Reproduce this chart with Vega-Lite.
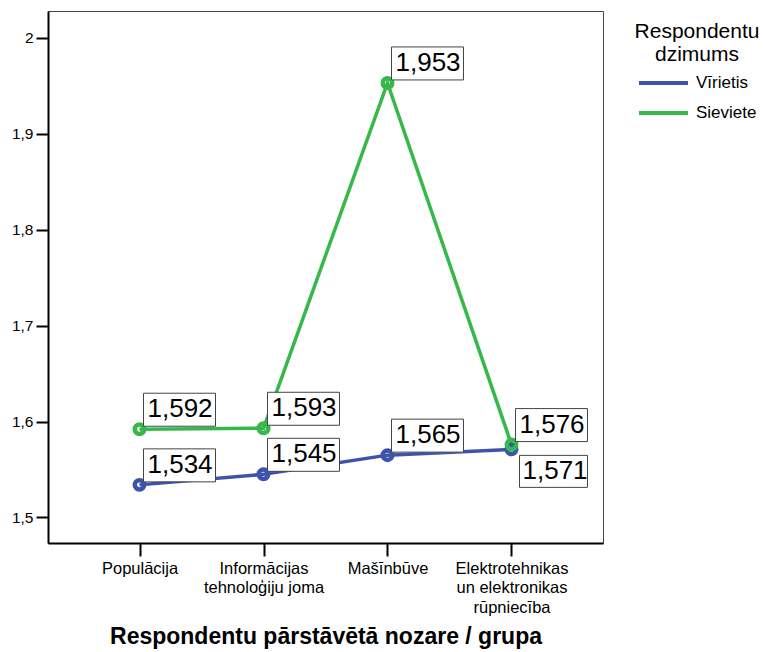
{
  "$schema": "https://vega.github.io/schema/vega-lite/v6.json",
  "autosize": "none",
  "width": 555,
  "height": 532,
  "padding": {"left": 48, "top": 11, "right": 162, "bottom": 109},
  "background": "white",
  "config": {
    "font": "Liberation Sans",
    "view": {"stroke": "#444", "strokeWidth": 1}
  },
  "data": {
    "values": [
      {"cat": "Populācija", "gender": "Vīrietis", "value": 1.534},
      {"cat": "Informācijas tehnoloģiju joma", "gender": "Vīrietis", "value": 1.545},
      {"cat": "Mašīnbūve", "gender": "Vīrietis", "value": 1.565},
      {"cat": "Elektrotehnikas un elektronikas rūpniecība", "gender": "Vīrietis", "value": 1.571},
      {"cat": "Populācija", "gender": "Sieviete", "value": 1.592},
      {"cat": "Informācijas tehnoloģiju joma", "gender": "Sieviete", "value": 1.593},
      {"cat": "Mašīnbūve", "gender": "Sieviete", "value": 1.953},
      {"cat": "Elektrotehnikas un elektronikas rūpniecība", "gender": "Sieviete", "value": 1.576}
    ]
  },
  "transform": [
    {"calculate": "replace(format(datum.value, '.3f'), '.', ',')", "as": "label"},
    {"calculate": "datum.gender == 'Vīrietis' ? 0 : 1", "as": "ord"}
  ],
  "encoding": {
    "x": {
      "field": "cat",
      "type": "nominal",
      "sort": null,
      "scale": {"type": "point", "padding": 0.738},
      "axis": {
        "title": "Respondentu pārstāvētā nozare / grupa",
        "titleFont": "Liberation Sans",
        "titleFontSize": 23,
        "titleFontWeight": "bold",
        "titleColor": "black",
        "titlePadding": 10,
        "labelAngle": 0,
        "labelFontSize": 16.5,
        "labelColor": "black",
        "labelLineHeight": 19.5,
        "labelPadding": 4,
        "labelBaseline": "top",
        "tickSize": 13,
        "tickWidth": 2,
        "tickColor": "black",
        "domainColor": "black",
        "domainWidth": 2,
        "labelExpr": "datum.label == 'Informācijas tehnoloģiju joma' ? ['Informācijas', 'tehnoloģiju joma'] : datum.label == 'Elektrotehnikas un elektronikas rūpniecība' ? ['Elektrotehnikas', 'un elektronikas', 'rūpniecība'] : datum.label"
      }
    },
    "y": {
      "field": "value",
      "type": "quantitative",
      "scale": {"domain": [1.4734, 2.028], "nice": false, "zero": false},
      "axis": {
        "title": null,
        "values": [1.5, 1.6, 1.7, 1.8, 1.9, 2.0],
        "grid": false,
        "labelFontSize": 15.5,
        "labelColor": "black",
        "labelPadding": 3,
        "tickSize": 12,
        "tickWidth": 2,
        "tickColor": "black",
        "domainColor": "black",
        "domainWidth": 2,
        "labelExpr": "replace(format(datum.value, '.1~f'), '.', ',')"
      }
    }
  },
  "layer": [
    {
      "mark": {"type": "line", "strokeWidth": 3.5},
      "encoding": {
        "color": {
          "field": "gender",
          "type": "nominal",
          "sort": ["Vīrietis", "Sieviete"],
          "scale": {"domain": ["Vīrietis", "Sieviete"], "range": ["#3e53ac", "#36b84a"]},
          "legend": {
            "title": ["Respondentu", "dzimums"],
            "orient": "none",
            "legendX": 587,
            "legendY": 10,
            "titleFontSize": 21,
            "titleFontWeight": "normal",
            "titleColor": "black",
            "titleAlign": "center",
            "titleAnchor": "middle",
            "titleLineHeight": 23,
            "titlePadding": 8,
            "labelFontSize": 17,
            "labelColor": "black",
            "labelOffset": 6,
            "symbolType": "stroke",
            "symbolSize": 2401,
            "symbolStrokeWidth": 4,
            "clipHeight": 20,
            "rowPadding": 10
          }
        },
        "order": {"field": "ord"},
        "detail": {"field": "gender"}
      }
    },
    {
      "mark": {"type": "point", "shape": "circle", "filled": false, "size": 90, "strokeWidth": 4.5, "opacity": 1},
      "encoding": {
        "color": {"field": "gender", "type": "nominal", "legend": null},
        "order": {"field": "ord"}
      }
    },
    {
      "transform": [{"filter": "!(datum.gender == 'Vīrietis' && datum.cat == 'Elektrotehnikas un elektronikas rūpniecība')"}],
      "layer": [
        {
          "mark": {"type": "rect", "fill": "white", "stroke": "#444", "strokeWidth": 1, "xOffset": 4, "x2Offset": 76, "yOffset": -36, "y2Offset": -3},
          "encoding": {"x2": {"field": "cat"}, "y2": {"field": "value"}}
        },
        {
          "mark": {"type": "text", "align": "left", "baseline": "alphabetic", "dx": 8, "dy": -12, "fontSize": 26, "color": "black"},
          "encoding": {"text": {"field": "label"}}
        }
      ]
    },
    {
      "transform": [{"filter": "datum.gender == 'Vīrietis' && datum.cat == 'Elektrotehnikas un elektronikas rūpniecība'"}],
      "layer": [
        {
          "mark": {"type": "rect", "fill": "white", "stroke": "#444", "strokeWidth": 1, "xOffset": 8, "x2Offset": 76, "yOffset": 6, "y2Offset": 38},
          "encoding": {"x2": {"field": "cat"}, "y2": {"field": "value"}}
        },
        {
          "mark": {"type": "text", "align": "left", "baseline": "alphabetic", "dx": 11, "dy": 30, "fontSize": 26, "color": "black"},
          "encoding": {"text": {"field": "label"}}
        }
      ]
    }
  ]
}
